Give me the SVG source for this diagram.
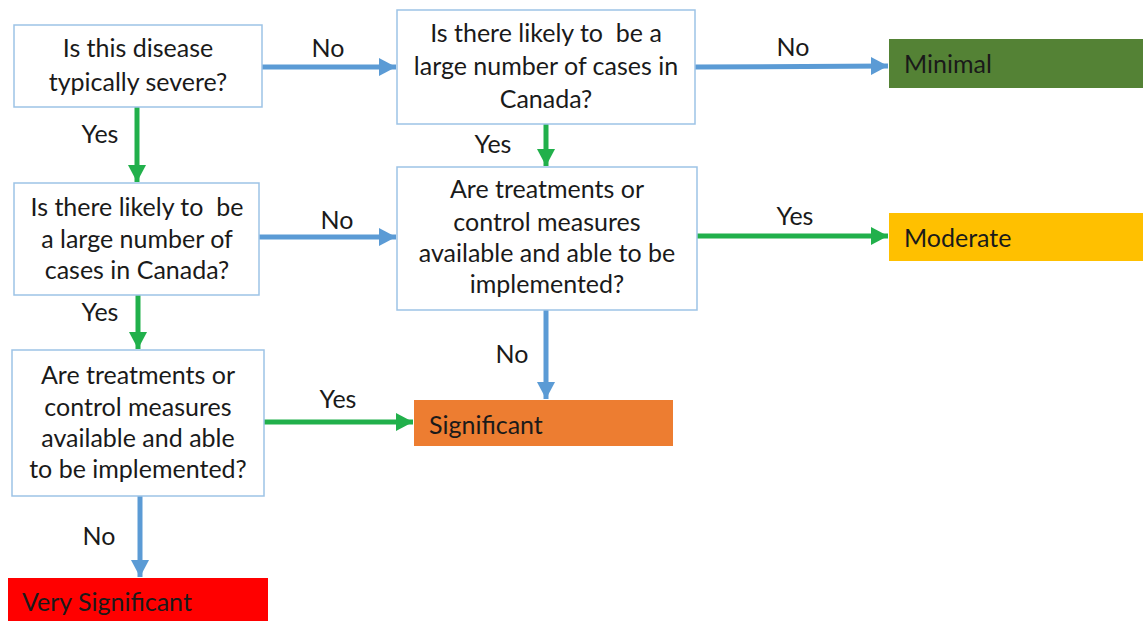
<svg xmlns="http://www.w3.org/2000/svg" width="1143" height="621" viewBox="0 0 1143 621">
<style>
.q{fill:#fff;stroke:#9dc3e6;stroke-width:1.5}
.t{font-family:Lato,"Open Sans",sans-serif;font-size:25px;fill:#1a1a1a;white-space:pre}
.c{text-anchor:middle}
.b{stroke:#5b9bd5;stroke-width:5;fill:none}
.g{stroke:#21b04b;stroke-width:5;fill:none}
</style>
<defs>
<marker id="ab" markerUnits="userSpaceOnUse" markerWidth="20" markerHeight="20" refX="17" refY="10" orient="auto"><path d="M0,1 L17,10 L0,19 Z" fill="#5b9bd5"/></marker>
<marker id="ag" markerUnits="userSpaceOnUse" markerWidth="20" markerHeight="20" refX="17" refY="10" orient="auto"><path d="M0,1 L17,10 L0,19 Z" fill="#21b04b"/></marker>
</defs>
<rect width="1143" height="621" fill="#fff"/>
<g id="connectors">
<line class="b" x1="262" y1="67" x2="396" y2="67" marker-end="url(#ab)"/>
<line class="g" x1="137" y1="107" x2="137" y2="182" marker-end="url(#ag)"/>
<line class="b" x1="695" y1="67" x2="888" y2="66" marker-end="url(#ab)"/>
<line class="g" x1="546" y1="124" x2="546" y2="166" marker-end="url(#ag)"/>
<line class="b" x1="259" y1="237" x2="396" y2="237" marker-end="url(#ab)"/>
<line class="g" x1="138" y1="295" x2="138" y2="349" marker-end="url(#ag)"/>
<line class="g" x1="697" y1="236" x2="888" y2="236" marker-end="url(#ag)"/>
<line class="b" x1="546" y1="310" x2="546" y2="399" marker-end="url(#ab)"/>
<line class="g" x1="264" y1="422" x2="413" y2="422" marker-end="url(#ag)"/>
<line class="b" x1="140" y1="496" x2="140" y2="577" marker-end="url(#ab)"/>
<text class="t c" x="328" y="57">No</text>
<text class="t c" x="100" y="143">Yes</text>
<text class="t c" x="793" y="56">No</text>
<text class="t c" x="493" y="153">Yes</text>
<text class="t c" x="337" y="229">No</text>
<text class="t c" x="100" y="321">Yes</text>
<text class="t c" x="795" y="225">Yes</text>
<text class="t c" x="512" y="363">No</text>
<text class="t c" x="338" y="408">Yes</text>
<text class="t c" x="99" y="545">No</text>
</g>
<g id="q1"><rect class="q" x="14" y="25" width="248" height="82"/>
<text class="t c" x="138" y="57">Is this disease</text><text class="t c" x="138" y="91">typically severe?</text></g>
<g id="q2"><rect class="q" x="397" y="10" width="298" height="114"/>
<text class="t c" x="546" y="42">Is there likely to  be a</text><text class="t c" x="546" y="75">large number of cases in</text><text class="t c" x="546" y="108">Canada?</text></g>
<g id="q3"><rect class="q" x="14" y="183" width="245" height="112"/>
<text class="t c" x="137" y="216">Is there likely to  be</text><text class="t c" x="137" y="248">a large number of</text><text class="t c" x="137" y="279">cases in Canada?</text></g>
<g id="q4"><rect class="q" x="397" y="167" width="300" height="143"/>
<text class="t c" x="547" y="198">Are treatments or</text><text class="t c" x="547" y="231">control measures</text><text class="t c" x="547" y="262">available and able to be</text><text class="t c" x="547" y="293">implemented?</text></g>
<g id="q5"><rect class="q" x="12" y="350" width="252" height="146"/>
<text class="t c" x="138" y="384">Are treatments or</text><text class="t c" x="138" y="416">control measures</text><text class="t c" x="138" y="447">available and able</text><text class="t c" x="138" y="478">to be implemented?</text></g>
<g id="minimal"><rect x="889" y="39" width="254" height="49" fill="#548235"/><text class="t" x="904" y="73">Minimal</text></g>
<g id="moderate"><rect x="889" y="213" width="254" height="48" fill="#ffc000"/><text class="t" x="904" y="247">Moderate</text></g>
<g id="significant"><rect x="414" y="400" width="259" height="46" fill="#ed7d31"/><text class="t" x="429" y="434">Significant</text></g>
<g id="very"><rect x="8" y="578" width="260" height="43" fill="#ff0000"/><text class="t" x="22" y="611">Very Significant</text></g>
</svg>
